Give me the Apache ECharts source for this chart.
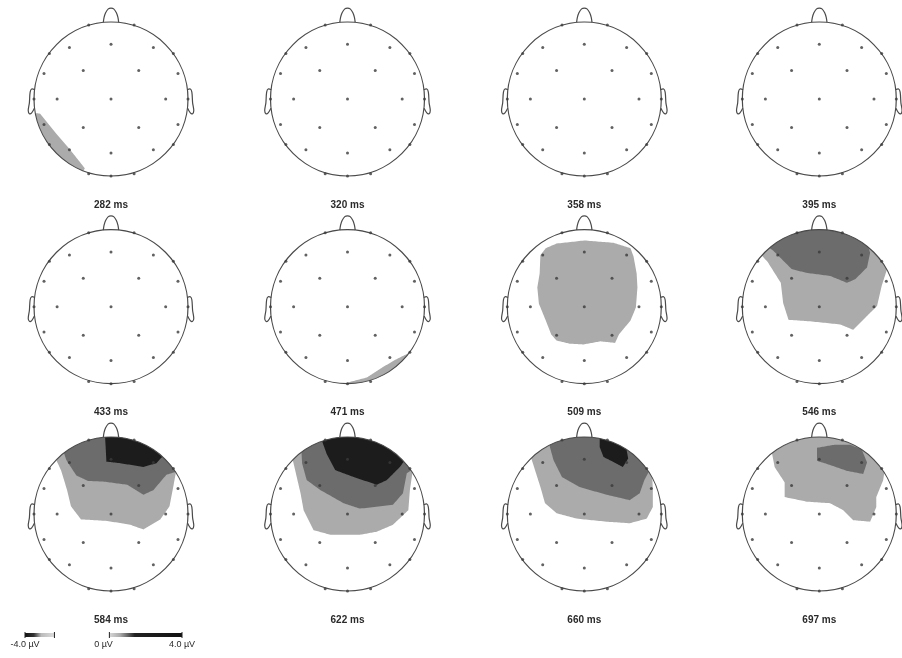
<!DOCTYPE html>
<html>
<head>
<meta charset="utf-8">
<script src="https://cdn.jsdelivr.net/npm/echarts@6/dist/echarts.min.js"></script>
<style>html,body{margin:0;padding:0;background:#fff}#c{width:902px;height:658px}</style>
</head>
<body>
<div id="c"></div>
<script>
// ---------- DATA ----------
const mapLabels = ['282 ms','320 ms','358 ms','395 ms','433 ms','471 ms','509 ms','546 ms','584 ms','622 ms','660 ms','697 ms'];

// electrode positions in head coordinates (unit circle, x right, y up/nose)
const electrodes = [
  [-0.29,0.96],[0.30,0.96],
  [-0.80,0.59],[-0.54,0.67],[0,0.71],[0.55,0.67],[0.81,0.59],
  [-0.87,0.33],[-0.36,0.37],[0.36,0.37],[0.87,0.33],
  [-1.0,0],[-0.70,0],[0,0],[0.71,0],[1.0,0],
  [-0.87,-0.33],[-0.36,-0.37],[0.36,-0.37],[0.87,-0.33],
  [-0.80,-0.59],[-0.54,-0.66],[0,-0.70],[0.55,-0.66],[0.81,-0.59],
  [-0.29,-0.97],[0,-1.0],[0.30,-0.97]
];

// contour regions: amplitude level (µV) and outline in head coordinates
const regions282 = [
  {uv:1, outline:[[-1.1,-0.17],[-0.92,-0.19],[-0.71,-0.45],[-0.53,-0.66],[-0.34,-0.9],[-0.42,-1.05],[-1.0,-0.7]]}
];
const regions320 = [];
const regions358 = [];
const regions395 = [];
const regions433 = [];
const regions471 = [
  {uv:1, outline:[[-0.1,-1.05],[0.0,-0.985],[0.25,-0.92],[0.45,-0.79],[0.62,-0.69],[0.8,-0.6],[0.95,-0.62],[0.6,-1.05]]}
];
const regions509 = [
  {uv:1, outline:[[-0.50,0.76],[-0.36,0.82],[0,0.86],[0.38,0.83],[0.60,0.76],[0.64,0.65],[0.68,0.43],[0.69,0.25],[0.67,-0.01],[0.60,-0.18],[0.45,-0.36],[0.40,-0.47],[0.21,-0.45],[-0.01,-0.49],[-0.19,-0.48],[-0.36,-0.44],[-0.43,-0.36],[-0.50,-0.18],[-0.59,0.04],[-0.61,0.25],[-0.58,0.43],[-0.57,0.67]]}
];
const regions546 = [
  {uv:1, outline:[[-0.76,0.68],[-0.67,0.58],[-0.50,0.31],[-0.47,0.05],[-0.40,-0.17],[-0.12,-0.19],[0.27,-0.23],[0.44,-0.30],[0.57,-0.17],[0.75,0.01],[0.81,0.27],[0.9,0.55],[0.5,1.1],[-0.3,1.1]]},
  {uv:2, outline:[[-0.7,0.8],[-0.60,0.73],[-0.36,0.49],[-0.17,0.44],[0.14,0.40],[0.36,0.31],[0.47,0.36],[0.62,0.51],[0.66,0.70],[0.6,0.9],[0.3,1.1],[-0.3,1.1]]}
];
const regions584 = [
  {uv:1, outline:[[-0.72,0.72],[-0.65,0.57],[-0.57,0.31],[-0.52,0.10],[-0.39,-0.07],[-0.05,-0.09],[0.25,-0.14],[0.42,-0.20],[0.64,-0.07],[0.76,0.10],[0.81,0.36],[0.85,0.58],[0.5,1.1],[-0.4,1.1]]},
  {uv:2, outline:[[-0.62,0.82],[-0.58,0.70],[-0.45,0.50],[-0.30,0.43],[-0.09,0.42],[0.21,0.38],[0.42,0.25],[0.55,0.31],[0.72,0.51],[0.85,0.55],[0.5,1.1],[-0.4,1.1]]},
  {uv:3, outline:[[-0.08,1.05],[-0.07,0.88],[-0.06,0.68],[0.12,0.66],[0.42,0.61],[0.59,0.66],[0.68,0.76],[0.6,0.95],[0.3,1.1]]}
];
const regions622 = [
  {uv:1, outline:[[-0.72,0.74],[-0.68,0.57],[-0.61,0.27],[-0.57,0.05],[-0.44,-0.21],[-0.22,-0.27],[0.16,-0.27],[0.38,-0.23],[0.59,-0.14],[0.79,0.05],[0.81,0.31],[0.85,0.58],[0.5,1.1],[-0.4,1.1]]},
  {uv:2, outline:[[-0.60,0.85],[-0.59,0.66],[-0.53,0.44],[-0.35,0.31],[-0.05,0.14],[0.16,0.07],[0.59,0.12],[0.72,0.27],[0.77,0.53],[0.85,0.58],[0.5,1.1],[-0.4,1.1]]},
  {uv:3, outline:[[-0.35,1.0],[-0.27,0.78],[-0.16,0.57],[0.08,0.48],[0.38,0.38],[0.51,0.44],[0.68,0.61],[0.76,0.72],[0.4,1.1],[-0.2,1.1]]}
];
const regions660 = [
  {uv:1, outline:[[-0.70,0.76],[-0.64,0.57],[-0.57,0.35],[-0.51,0.14],[-0.36,0.01],[-0.10,-0.06],[0.29,-0.10],[0.59,-0.12],[0.81,-0.06],[0.89,0.09],[0.89,0.31],[0.88,0.55],[0.5,1.1],[-0.4,1.1]]},
  {uv:2, outline:[[-0.46,0.92],[-0.40,0.70],[-0.29,0.48],[-0.06,0.35],[0.29,0.25],[0.59,0.18],[0.72,0.27],[0.78,0.44],[0.85,0.57],[0.5,1.1],[-0.3,1.1]]},
  {uv:3, outline:[[0.20,1.0],[0.20,0.87],[0.25,0.74],[0.37,0.68],[0.50,0.61],[0.57,0.72],[0.55,0.83],[0.48,0.95]]}
];
const regions697 = [
  {uv:1, outline:[[-0.62,0.82],[-0.58,0.61],[-0.45,0.41],[-0.45,0.22],[-0.16,0.16],[0.14,0.14],[0.31,0.05],[0.44,-0.08],[0.66,-0.10],[0.74,0.09],[0.74,0.22],[0.83,0.44],[0.85,0.58],[0.5,1.1],[-0.4,1.1]]},
  {uv:2, outline:[[-0.03,0.86],[0.2,0.90],[0.40,0.90],[0.55,0.84],[0.62,0.67],[0.57,0.52],[0.36,0.56],[0.10,0.65],[-0.03,0.69]]}
];
const mapRegions = [regions282,regions320,regions358,regions395,regions433,regions471,regions509,regions546,regions584,regions622,regions660,regions697];

// colour bar segments (µV) and its tick labels
const colorbarSegments = [[-4.0,-2.5],[0.3,4.0]];
const colorbarTicks = [-4, 0, 4];

// ---------- DRAWING ----------
const chart = echarts.init(document.getElementById('c'));
const colCenters = [111, 347.5, 584.3, 819.3];
const rowCenters = [99, 306.7, 514];
const R = 77;

function levelColor(uv){
  if (uv >= 3) return '#1c1c1c';
  if (uv >= 2) return '#6c6c6c';
  return '#ababab';
}
function clampDense(outline){
  const out = [];
  const n = outline.length;
  for (let i=0;i<n;i++){
    const a = outline[i], b = outline[(i+1)%n];
    const steps = 16;
    for (let s=0;s<steps;s++){
      const t = s/steps;
      let x = a[0]+(b[0]-a[0])*t, y = a[1]+(b[1]-a[1])*t;
      const r = Math.hypot(x,y);
      if (r > 1){ x/=r; y/=r; }
      out.push([x,y]);
    }
  }
  return out;
}
const noseShape = [[-0.1,0.995],[-0.09,1.06],[-0.07,1.12],[-0.035,1.17],[0,1.18],[0.035,1.17],[0.07,1.12],[0.09,1.06],[0.1,0.995]];
const earShape = [[-0.99,0.12],[-1.03,0.13],[-1.05,0.09],[-1.06,-0.05],[-1.075,-0.15],[-1.06,-0.19],[-1.03,-0.18],[-0.995,-0.12]];

const grids = [], xAxes = [], yAxes = [], series = [];
mapLabels.forEach((lab, i) => {
  const cx = colCenters[i%4], cy = rowCenters[Math.floor(i/4)];
  grids.push({left: cx-R, top: cy-R, width: 2*R, height: 2*R, containLabel:false});
  xAxes.push({gridIndex:i, type:'value', min:-1, max:1, show:true,
    axisLine:{show:false}, axisTick:{show:false}, axisLabel:{show:false}, splitLine:{show:false},
    name: lab, nameLocation:'middle', nameGap: 24,
    nameTextStyle:{fontFamily:'Liberation Sans, Arial', fontWeight:'bold', fontSize:10, color:'#2a2a2a'}});
  yAxes.push({gridIndex:i, type:'value', min:-1, max:1, show:false});
  const regs = mapRegions[i];
  series.push({
    type:'custom', xAxisIndex:i, yAxisIndex:i, silent:true, clip:false,
    data: regs.map((r,k)=>[k, r.uv]),
    renderItem: (params, api) => {
      const r = regs[params.dataIndex];
      const pts = clampDense(r.outline).map(p => api.coord(p));
      return {type:'polygon', shape:{points:pts}, style:{fill: levelColor(r.uv), stroke:'none'}};
    }
  });
  series.push({
    type:'custom', xAxisIndex:i, yAxisIndex:i, silent:true, clip:false, z:3,
    data:[[0,0]],
    renderItem: (params, api) => {
      const c = api.coord([0,0]);
      const rad = api.coord([1,0])[0]-c[0];
      const st = {stroke:'#4a4a4a', lineWidth:1.2, fill:null};
      return {type:'group', children:[
        {type:'circle', shape:{cx:c[0], cy:c[1], r:rad}, style:{stroke:'#4a4a4a', lineWidth:1.2, fill:'none'}},
        {type:'polyline', shape:{points: noseShape.map(p=>api.coord(p)), smooth:0.3}, style:st},
        {type:'polyline', shape:{points: earShape.map(p=>api.coord(p)), smooth:0.3}, style:st},
        {type:'polyline', shape:{points: earShape.map(p=>api.coord([-p[0],p[1]])), smooth:0.3}, style:st}
      ]};
    }
  });
  series.push({
    type:'scatter', xAxisIndex:i, yAxisIndex:i, silent:true, z:4,
    data: electrodes, symbol:'circle', symbolSize:3,
    itemStyle:{color:'#3a3a3a'}
  });
});

// colour bar
const cbi = mapLabels.length;
grids.push({left:25, top:633, width:157, height:4});
xAxes.push({gridIndex:cbi, type:'value', min:-4, max:4, interval:4, show:true,
  axisLine:{show:false}, axisTick:{show:false}, splitLine:{show:false},
  axisLabel:{margin:3, fontSize:9, fontFamily:'Liberation Sans, Arial', color:'#2a2a2a',
    formatter: v => colorbarTicks.indexOf(v)>=0 ? (v===0 ? '0 µV' : v.toFixed(1)+' µV') : ''}});
yAxes.push({gridIndex:cbi, type:'value', min:0, max:1, show:false});
series.push({
  type:'custom', xAxisIndex:cbi, yAxisIndex:cbi, silent:true, clip:false,
  data: colorbarSegments,
  renderItem: (params, api) => {
    const a = api.coord([api.value(0), 1]);
    const b = api.coord([api.value(1), 0]);
    const neg = api.value(1) <= 0;
    const grad = neg
      ? new echarts.graphic.LinearGradient(0,0,1,0,[{offset:0,color:'#111'},{offset:0.3,color:'#333'},{offset:0.55,color:'#bbb'},{offset:1,color:'#dcdcdc'}])
      : new echarts.graphic.LinearGradient(0,0,1,0,[{offset:0,color:'#d8d8d8'},{offset:0.15,color:'#aaa'},{offset:0.35,color:'#222'},{offset:1,color:'#111'}]);
    return {type:'group', children:[
      {type:'rect', shape:{x:a[0], y:a[1], width:b[0]-a[0], height:b[1]-a[1]}, style:{fill:grad}},
      {type:'line', shape:{x1:a[0], y1:a[1]-1, x2:a[0], y2:b[1]+1}, style:{stroke:'#222', lineWidth:1}},
      {type:'line', shape:{x1:b[0], y1:a[1]-1, x2:b[0], y2:b[1]+1}, style:{stroke:'#222', lineWidth:1}}
    ]};
  }
});

chart.setOption({
  animation:false,
  backgroundColor:'#fff',
  grid: grids, xAxis: xAxes, yAxis: yAxes, series: series
});
</script>
</body>
</html>
